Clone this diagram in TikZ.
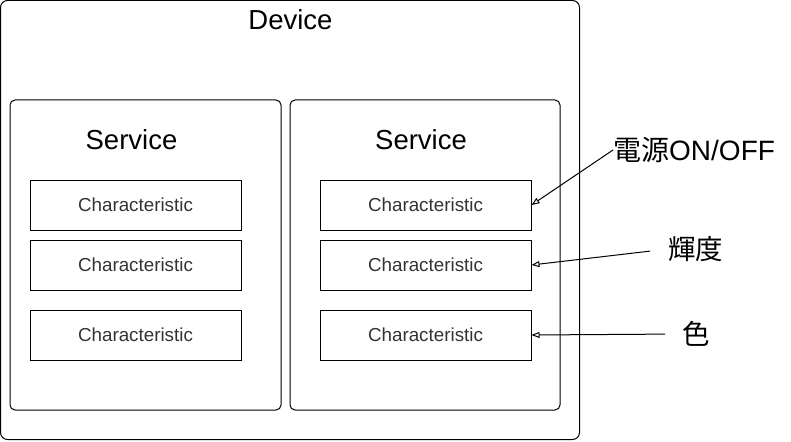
\documentclass[tikz,border=0pt]{standalone}
\usepackage{fontspec}
\setmainfont{Liberation Sans}
\newfontfamily\cjk{Noto Sans CJK JP}
\usetikzlibrary{arrows.meta}
\definecolor{chrgray}{RGB}{51,51,51}

\begin{document}
\begin{tikzpicture}[x=1pt,y=-1pt,
        box/.style={draw,line width=1pt,rounded corners=7pt,inner sep=0pt},
        chr/.style={draw,line width=1pt,inner sep=0pt,minimum width=211pt,minimum height=50pt,text=chrgray,font=\fontsize{18.8}{21}\selectfont},
        big/.style={inner sep=0pt,font=\fontsize{27.5}{30}\selectfont},
        arr/.style={-{Triangle[open,length=8pt,width=6pt]},line width=1pt}]
    \useasboundingbox (0,0) rectangle (791,441);
    % device
    \node (dev) at (290,220) [box,minimum width=579pt,minimum height=439pt] {};
    \node (devlabel) at (290.5,20) [big] {Device};
    % services
    \node (ls) at (145.5,255) [box,rounded corners=5pt,minimum width=271pt,minimum height=310pt] {};
    \node (lslabel) at (131.5,140) [big] {Service};
    \node (rs) at (425,255) [box,rounded corners=5pt,minimum width=270pt,minimum height=310pt] {};
    \node (rslabel) at (421,140) [big] {Service};
    % characteristics
    \node (lc1) at (135.5,205) [chr] {Characteristic};
    \node (lc2) at (135.5,265) [chr] {Characteristic};
    \node (lc3) at (135.5,335) [chr] {Characteristic};
    \node (rc1) at (425.5,205) [chr] {Characteristic};
    \node (rc2) at (425.5,265) [chr] {Characteristic};
    \node (rc3) at (425.5,335) [chr] {Characteristic};
    % labels
    \node (pow) at (613,150) [big,font=\fontsize{28}{30}\selectfont,anchor=west] {{\cjk 電源}ON/OFF};
    \node (lum) at (668,249) [big,anchor=west] {\cjk 輝度};
    \node (col) at (682,334) [big,anchor=west] {\cjk 色};

    \draw[arr] (pow.west) -- (rc1.east);
    \draw[arr,shorten <=18pt] (lum.west) -- (rc2.east);
    \draw[arr,shorten <=17pt] (col.west) -- (rc3.east);
\end{tikzpicture}
\end{document}
